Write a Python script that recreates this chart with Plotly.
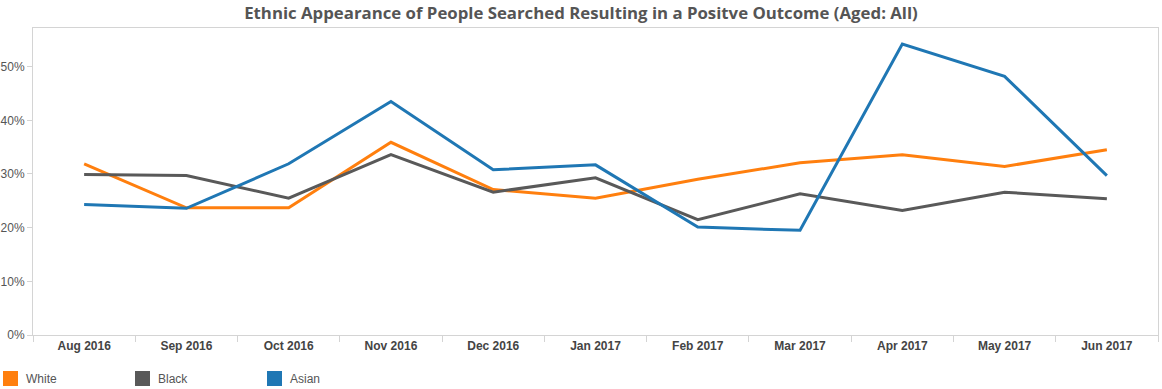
import plotly.graph_objects as go

months = ["Aug 2016", "Sep 2016", "Oct 2016", "Nov 2016", "Dec 2016", "Jan 2017",
          "Feb 2017", "Mar 2017", "Apr 2017", "May 2017", "Jun 2017"]
white = [31.9, 23.7, 23.7, 35.9, 27.1, 25.5, 29.0, 32.1, 33.6, 31.4, 34.5]
black = [29.9, 29.7, 25.5, 33.6, 26.6, 29.3, 21.5, 26.3, 23.2, 26.6, 25.4]
asian = [24.3, 23.6, 31.9, 43.5, 30.8, 31.7, 20.1, 19.5, 54.2, 48.2, 29.7]

series = [("White", white, "#ff7f0e"), ("Black", black, "#595959"), ("Asian", asian, "#1f77b4")]

W, H = 1162, 389
ML, MR, MT, MB = 33, 4, 28, 54
PW, PH = W - ML - MR, H - MT - MB

fig = go.Figure()
for name, vals, col in series:
    fig.add_trace(go.Scatter(x=months, y=[v / 100 for v in vals], mode="lines", name=name,
                             line=dict(color=col, width=3), showlegend=False,
                             hovertemplate="%{x}<br>" + name + ": %{y:.1%}<extra></extra>"))

# legend keys (bottom, horizontal) built from the series list
shapes, annots = [], []
for i, (name, vals, col) in enumerate(series):
    x0px = 3 + 132 * i
    shapes.append(dict(type="rect", xref="paper", yref="paper",
                       x0=(x0px - ML) / PW, x1=(x0px + 15 - ML) / PW,
                       y0=(H - MB - 386) / PH, y1=(H - MB - 371) / PH,
                       fillcolor=col, line=dict(width=0)))
    annots.append(dict(text=name, xref="paper", yref="paper", showarrow=False,
                       x=(x0px + 21 - ML) / PW, xanchor="left",
                       y=(H - MB - 379) / PH, yanchor="middle",
                       font=dict(family="Liberation Sans", size=12, color="#555555")))

fig.update_layout(
    width=W, height=H, autosize=False,
    margin=dict(l=ML, r=MR, t=MT, b=MB, autoexpand=False),
    paper_bgcolor="white", plot_bgcolor="white",
    showlegend=False,
    title=dict(text="<b>Ethnic Appearance of People Searched Resulting in a Positve Outcome (Aged: All)</b>",
               x=0.5, xanchor="center", yref="container", y=1 - 13 / H, yanchor="middle",
               font=dict(family="Open Sans", size=16.8, color="#555555")),
    font=dict(family="Liberation Sans", size=12, color="#555555"),
    xaxis=dict(type="category", range=[-0.5, 10.5], showgrid=False, showline=True, mirror=True,
               linecolor="#d4d4d4", linewidth=1, ticks="outside", tickson="boundaries",
               ticklen=6, tickcolor="#d4d4d4", zeroline=False, automargin=False,
               tickfont=dict(family="Liberation Sans", size=12, color="#444444"),
               ticktext=["<b>%s</b>" % m for m in months], tickvals=months),
    yaxis=dict(range=[0, 0.572], tickformat=".0%", tickvals=[0, 0.1, 0.2, 0.3, 0.4, 0.5],
               showgrid=False, showline=True, mirror=True, linecolor="#d4d4d4", linewidth=1,
               ticks="outside", ticklen=5, tickcolor="#d4d4d4", zeroline=False, automargin=False,
               tickfont=dict(family="Liberation Sans", size=12, color="#555555")),
    shapes=shapes,
    annotations=annots,
)

fig.write_html("out.html", config={"displayModeBar": False},
               post_script="document.body.style.margin='0';document.body.style.overflow='hidden';")
